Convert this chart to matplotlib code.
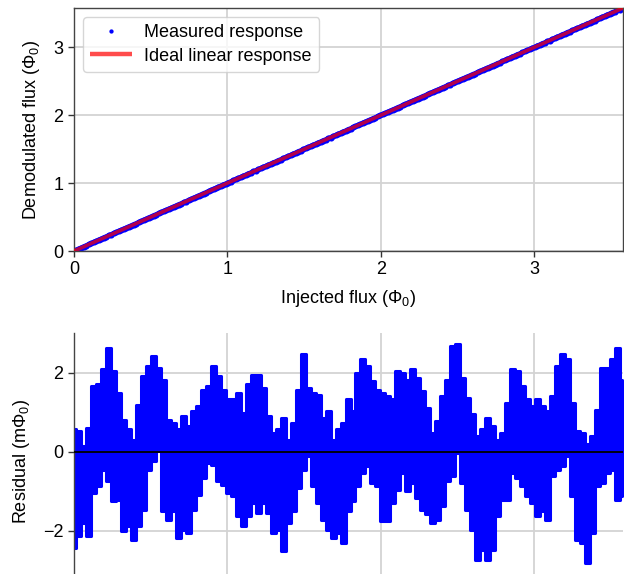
import numpy as np
import matplotlib
matplotlib.use("Agg")
import matplotlib.pyplot as plt

plt.rcParams['font.family'] = ['Liberation Sans', 'DejaVu Sans']
plt.rcParams['mathtext.fontset'] = 'custom'
plt.rcParams['mathtext.rm'] = 'Liberation Sans'
plt.rcParams['mathtext.it'] = 'Liberation Sans'
plt.rcParams['mathtext.default'] = 'regular'

# Residual envelope (mPhi0): local highs and lows
res_hi = [0.56, 0.51, 0.14, 0.60, 1.65, 1.70, 2.08, 2.62, 2.03, 1.49, 0.81, 0.56,
          0.30, 1.19, 1.91, 2.16, 2.41, 2.12, 1.82, 0.81, 0.73, 0.56, 0.89, 0.64,
          1.02, 1.15, 1.57, 1.65, 2.16, 1.91, 1.57, 1.32,
          1.32, 1.49, 0.98, 1.70, 1.95, 1.95, 1.61, 0.89, 0.47, 0.56, 0.85, 0.30,
          0.73, 1.57, 2.46, 1.61, 1.49, 1.44, 0.85, 1.02, 0.30, 0.56, 0.73, 1.32,
          1.02, 1.99, 2.33, 2.16, 1.78, 1.57, 1.49,
          1.40, 1.32, 2.03, 1.99, 1.82, 2.08, 1.86, 1.53, 1.11, 0.47, 0.77, 1.40,
          1.82, 2.67, 2.71, 1.86, 1.36, 0.94, 0.39, 0.56, 0.85, 0.64, 0.30, 0.47,
          1.23, 2.08, 2.03, 1.65, 1.32, 1.15,
          1.32, 1.15, 1.02, 1.40, 2.16, 2.46, 2.33, 1.23, 0.51, 0.47, 0.18, 0.39,
          1.06, 2.12, 2.12, 2.33, 2.62, 1.82]
res_lo = [-2.44, -2.14, -1.81, -2.14, -1.05, -0.88, -0.46, -0.75, -1.26, -1.22, -2.02, -1.89,
          -2.23, -1.89, -1.47, -0.46, -0.24, 0.01, -1.51, -1.72, -1.51, -2.19, -1.97, -2.06,
          -1.47, -1.09, -0.67, -0.29, -0.33, -0.75, -0.84, -1.05,
          -1.13, -1.64, -1.89, -1.64, -1.30, -1.55, -1.30, -1.55, -2.06, -1.97, -2.52, -1.81,
          -1.51, -0.92, -0.46, -0.12, -0.88, -1.30, -1.72, -1.97, -2.19, -2.06, -2.31, -1.51,
          -1.26, -0.88, -0.54, -0.37, -0.79, -0.88, -1.76,
          -1.76, -1.30, -0.96, -0.54, -1.00, -0.79, -1.17, -1.47, -1.59, -1.81, -1.72, -1.38,
          -0.75, -0.62, -0.03, -0.79, -1.47, -1.97, -2.73, -2.48, -2.73, -2.48, -1.64, -1.22,
          -1.22, -0.54, -0.67, -0.88, -1.13, -1.30,
          -1.64, -1.51, -1.72, -0.62, -0.46, -0.37, -0.12, -1.13, -2.23, -2.31, -2.82, -2.06,
          -0.88, -0.79, -0.54, -0.46, -1.22, -1.13]

flux_max = 3.59          # last sampled injected flux (Phi0)
axis_max = 3.58
x_ticks = [0, 1, 2, 3]
y_ticks_top = [0, 1, 2, 3]
y_ticks_res = [-2, 0, 2]

residual = np.empty(2 * len(res_hi))
residual[0::2] = res_hi
residual[1::2] = res_lo
injected = np.linspace(0, flux_max, residual.size)
measured = injected + residual * 1e-3
knots = injected[0::2]

fig = plt.figure(figsize=(6.24, 5.74), dpi=100)
W, H = 624, 574
ax1 = fig.add_axes([74 / W, (H - 251) / H, (623 - 74) / W, (251 - 8) / H])
ax2 = fig.add_axes([74 / W, (H - 590) / H, (623 - 74) / W, (590 - 333) / H])

FS = 13
grid_kw = dict(color='#d3d3d3', lw=1.3, zorder=0)
for ax in (ax1, ax2):
    ax.set_axisbelow(True)
    ax.grid(True, **grid_kw)
    ax.tick_params(labelsize=FS, length=4, width=1, color='#333333', pad=3.5)
    for s in ax.spines.values():
        s.set_color('#444444')
        s.set_linewidth(1.0)

ax1.plot(injected, measured, '-o', color='#0000ff', ms=4.4, mec='none', lw=3.6,
         label='Measured response', zorder=2)
ax1.plot(injected, injected, '-', color='red', alpha=0.7, lw=2.6,
         label='Ideal linear response', zorder=3, solid_capstyle='butt')
ax1.set_xlim(0, axis_max)
ax1.set_ylim(0, axis_max)
ax1.set_xticks(x_ticks)
ax1.set_yticks(y_ticks_top)
ax1.set_xlabel(r'Injected flux ($\Phi_0$)', fontsize=FS, labelpad=7)
ax1.set_ylabel(r'Demodulated flux ($\Phi_0$)', fontsize=FS, labelpad=8)
leg = ax1.legend(loc='upper left', fontsize=FS, framealpha=0.8, edgecolor='#cccccc',
                 handlelength=2.3, handletextpad=0.7, borderpad=0.4,
                 labelspacing=0.35, markerscale=0.7)
leg.get_lines()[0].set_linestyle('none')
leg.get_lines()[1].set_linewidth(3.2)

ax2.fill_between(knots, res_hi, res_lo, step='mid', facecolor='#0000ff',
                 edgecolor='#0000ff', lw=2.2, joinstyle='round', zorder=2)
ax2.axhline(0, color='black', lw=1.3, zorder=3)
ax2.set_xlim(0, axis_max)
ax2.set_ylim(-3.5, 3.0)
ax2.set_xticks(x_ticks)
ax2.set_yticks(y_ticks_res)
ax2.set_yticklabels(['\u22122', '0', '2'])
ax2.tick_params(axis='x', labelbottom=False)
ax2.spines['top'].set_visible(False)
ax2.spines['right'].set_visible(False)
ax2.set_ylabel(r'Residual (m$\Phi_0$)', fontsize=FS, labelpad=8)

fig.savefig('out.png', dpi=100)
